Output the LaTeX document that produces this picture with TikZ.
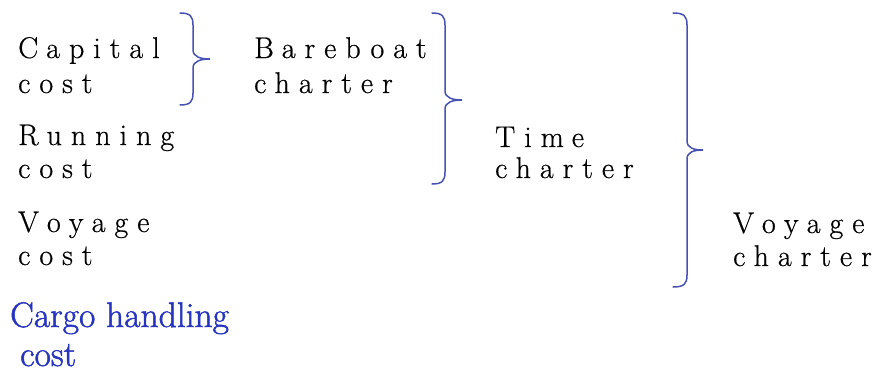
\documentclass[tikz,border=0pt]{standalone}
\usepackage{fontspec}
\definecolor{bracecol}{RGB}{72,82,178}
\definecolor{cargocol}{RGB}{38,52,190}
% tracked lettering used for the cost and charter labels
\newfontfamily\trackfont{Latin Modern Roman}[LetterSpace=30, FakeBold=0.6]
\newfontfamily\cargofont{Latin Modern Roman}[FakeBold=1.4]
\newcommand{\capgap}{\hspace{8pt}}
\tikzset{
  label/.style={anchor=base west, inner sep=0pt, font=\trackfont\fontsize{30}{30}\selectfont},
  cargo/.style={anchor=base west, inner sep=0pt, text=cargocol, font=\cargofont\fontsize{35.5}{35.5}\selectfont},
  curly/.style={draw=bracecol, line width=1.5pt, line cap=round}
}
% right curly brace: top end (#1,#2), stem x #3, tip (#4,#5), bottom y #6
\newcommand{\curlybrace}[6]{%
  \draw[curly] (#1,#2) .. controls (#3-3,#2) and (#3,#2+3) .. (#3,#2+12)
    -- (#3,#5-9) .. controls (#3,#5-2) and (#4-9,#5) .. (#4,#5)
    .. controls (#4-9,#5) and (#3,#5+2) .. (#3,#5+9)
    -- (#3,#6-12) .. controls (#3,#6-3) and (#3-3,#6) .. (#1,#6);}
\begin{document}
\begin{tikzpicture}[x=1pt,y=-1pt]
\useasboundingbox (0,0) rectangle (885,372);
% cost components
\node[label] (capital) at (18,58) {C\capgap apital};
\node[label] (capitalb) at (18,93) {cost};
\node[label] (running) at (18,145) {R\capgap unning};
\node[label] (runningb) at (18,178) {cost};
\node[label] (voyage) at (18,232) {V\capgap oyage};
\node[label] (voyageb) at (18,265) {cost};
\node[cargo] (cargo) at (10,327) {Cargo handling};
\node[cargo] (cargob) at (20,366) {cost};
% charter types
\node[label] (bareboat) at (254,58) {B\capgap areboat};
\node[label] (bareboatb) at (254,93) {charter};
\node[label] (time) at (495,147) {Tim\capgap e};
\node[label] (timeb) at (495,178) {charter};
\node[label] (vcharter) at (733,233) {V\capgap oyage};
\node[label] (vcharterb) at (733,266) {charter};
% grouping braces
\curlybrace{180}{13}{193}{210}{59}{105}
\curlybrace{432}{13}{445}{462}{100}{184}
\curlybrace{673}{13}{687}{703}{150}{287}
\end{tikzpicture}
\end{document}
